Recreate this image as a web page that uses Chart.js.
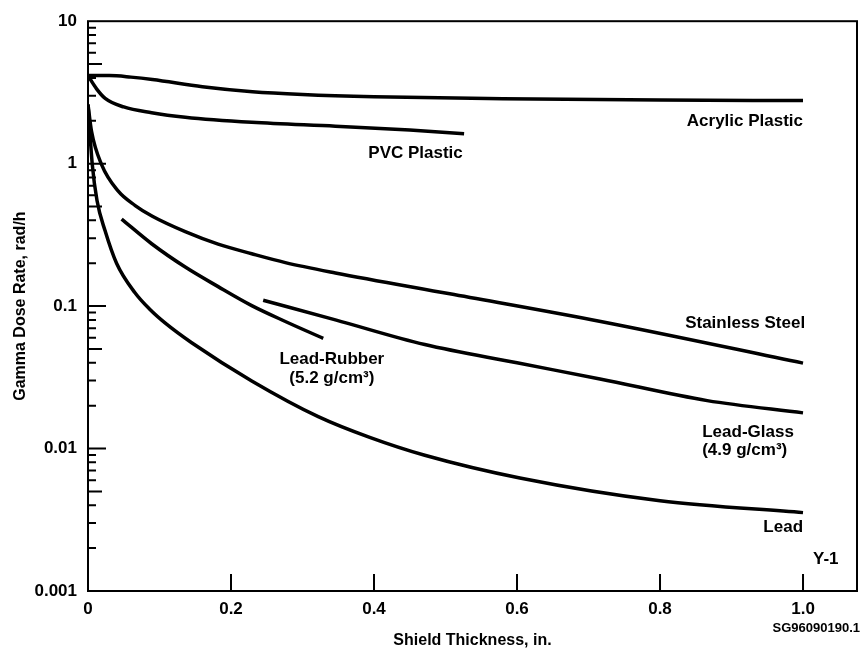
<!DOCTYPE html>
<html>
<head>
<meta charset="utf-8">
<script src="https://cdn.jsdelivr.net/npm/chart.js@4/dist/chart.umd.min.js"></script>
<style>
	html, body { margin: 0; padding: 0; background: #fff; }
</style>
</head>
<body>
<canvas id="graph" width="865" height="653"></canvas>
<script>
// shield thickness (in.) and gamma dose rate (rad/h)
const acrylicX = [0, 0.03, 0.06, 0.09, 0.16, 0.23, 0.3, 0.4, 0.58, 0.8, 1.0];
const acrylicY = [4.15, 4.15, 4.05, 3.9, 3.47, 3.2, 3.06, 2.95, 2.86, 2.8, 2.77];

const pvcX = [0, 0.012, 0.024, 0.05, 0.089, 0.136, 0.229, 0.346, 0.45, 0.526];
const pvcY = [4.15, 3.35, 2.87, 2.5, 2.28, 2.12, 1.95, 1.83, 1.72, 1.62];

const steelX = [0, 0.005, 0.019, 0.042, 0.066, 0.09, 0.136, 0.182, 0.229, 0.276, 0.346, 0.506, 0.717, 1.0];
const steelY = [2.6, 1.68, 0.985, 0.643, 0.508, 0.427, 0.333, 0.272, 0.233, 0.202, 0.171, 0.122, 0.078, 0.0398];

const rubberX = [0.047, 0.089, 0.136, 0.182, 0.229, 0.276, 0.329];
const rubberY = [0.408, 0.274, 0.188, 0.137, 0.1008, 0.078, 0.0594];

const glassX = [0.245, 0.346, 0.471, 0.6, 0.716, 0.866, 1.0];
const glassY = [0.11, 0.0801, 0.0537, 0.04, 0.0308, 0.0217, 0.0178];

const leadX = [0, 0.006, 0.0126, 0.0238, 0.0401, 0.0657, 0.0867, 0.1077, 0.145, 0.229, 0.322, 0.394, 0.471, 0.604, 0.8, 1.0];
const leadY = [2.6, 0.985, 0.551, 0.339, 0.199, 0.124, 0.0946, 0.0762, 0.0553, 0.02985, 0.01676, 0.01198, 0.00897, 0.00621, 0.0043, 0.00355];

const xTicks = [0, 0.2, 0.4, 0.6, 0.8, 1.0];
const yTicks = [0.001, 0.01, 0.1, 1, 10];

// curve names placed at data coordinates
const curveLabels = [
	{ text: "Acrylic Plastic", x: 1.0, y: 1.98, align: "right" },
	{ text: "PVC Plastic", x: 0.392, y: 1.19, align: "left" },
	{ text: "Stainless Steel", x: 1.003, y: 0.0755, align: "right" },
	{ text: "Lead-Rubber", x: 0.341, y: 0.0425, align: "center" },
	{ text: "(5.2 g/cm³)", x: 0.341, y: 0.0313, align: "center" },
	{ text: "Lead-Glass", x: 0.859, y: 0.013, align: "left" },
	{ text: "(4.9 g/cm³)", x: 0.859, y: 0.00973, align: "left" },
	{ text: "Lead", x: 1.0, y: 0.00279, align: "right" },
	{ text: "Y-1", x: 1.014, y: 0.00167, align: "left" },
];
const figId = "SG96090190.1";

const FONT = "'Liberation Sans', Arial, sans-serif";

function zip(xs, ys) {
	return xs.map((x, i) => ({ x: x, y: ys[i] }));
}

function curve(label, xs, ys) {
	return {
		label: label,
		data: zip(xs, ys),
		borderColor: "#000",
		borderWidth: 3.5,
		pointRadius: 0,
		fill: false,
		cubicInterpolationMode: "monotone",
	};
}

// box, inward tick marks and curve labels
const framePlugin = {
	id: "frame",
	afterDatasetsDraw(chart) {
		const { ctx, chartArea: a, scales } = chart;
		const sx = scales.x;
		const sy = scales.y;
		ctx.save();
		ctx.strokeStyle = "#000";
		ctx.lineWidth = 2;
		ctx.strokeRect(a.left, a.top, a.right - a.left, a.bottom - a.top);

		ctx.beginPath();
		xTicks.forEach((v) => {
			if (v === 0) return;
			const px = sx.getPixelForValue(v);
			ctx.moveTo(px, a.bottom);
			ctx.lineTo(px, a.bottom - 17);
		});
		for (let d = -3; d < 1; d++) {
			for (let m = 1; m < 10; m++) {
				if (d === -3 && m === 1) continue;
				const py = sy.getPixelForValue(m * Math.pow(10, d));
				const len = m === 1 ? 18 : m === 5 ? 14 : 8;
				ctx.moveTo(a.left, py);
				ctx.lineTo(a.left + len, py);
			}
		}
		ctx.stroke();

		ctx.fillStyle = "#000";
		ctx.textBaseline = "middle";
		ctx.font = "bold 17px " + FONT;
		curveLabels.forEach((l) => {
			ctx.textAlign = l.align;
			ctx.fillText(l.text, sx.getPixelForValue(l.x), sy.getPixelForValue(l.y));
		});
		ctx.font = "bold 13px " + FONT;
		ctx.textAlign = "right";
		ctx.fillText(figId, 860, 628);
		ctx.restore();
	},
};

const graph = document.getElementById("graph");
new Chart(graph, {
	type: "line",
	data: {
		datasets: [
			curve("Acrylic Plastic", acrylicX, acrylicY),
			curve("PVC Plastic", pvcX, pvcY),
			curve("Stainless Steel", steelX, steelY),
			curve("Lead-Rubber", rubberX, rubberY),
			curve("Lead-Glass", glassX, glassY),
			curve("Lead", leadX, leadY),
		],
	},
	options: {
		responsive: false,
		animation: false,
		layout: { padding: { top: 17, right: 8, left: 0, bottom: 0 } },
		plugins: {
			legend: { display: false },
			tooltip: { enabled: false },
		},
		scales: {
			x: {
				type: "linear",
				min: 0,
				max: 1.0755,
				afterBuildTicks: (s) => {
					s.ticks = xTicks.map((v) => ({ value: v }));
				},
				afterFit: (s) => {
					s.height = 62;
				},
				grid: { display: false, drawTicks: false },
				border: { display: false },
				ticks: {
					padding: 8,
					color: "#000",
					font: { family: FONT, size: 17, weight: "bold" },
					callback: (v) => (v === 0 ? "0" : v.toFixed(1)),
				},
				title: {
					display: true,
					text: "Shield Thickness, in.",
					color: "#000",
					font: { family: FONT, size: 16, weight: "bold" },
					padding: { top: 0, bottom: 3 },
				},
			},
			y: {
				type: "logarithmic",
				min: 0.001,
				max: 10,
				afterBuildTicks: (s) => {
					s.ticks = yTicks.map((v) => ({ value: v }));
				},
				afterFit: (s) => {
					s.width = 88;
				},
				grid: { display: false, drawTicks: false },
				border: { display: false },
				ticks: {
					padding: 11,
					color: "#000",
					font: { family: FONT, size: 17, weight: "bold" },
					callback: (v) => String(v),
				},
				title: {
					display: true,
					text: "Gamma Dose Rate, rad/h",
					color: "#000",
					font: { family: FONT, size: 16, weight: "bold" },
					padding: { top: 11, bottom: 0 },
				},
			},
		},
	},
	plugins: [framePlugin],
});
</script>
</body>
</html>
